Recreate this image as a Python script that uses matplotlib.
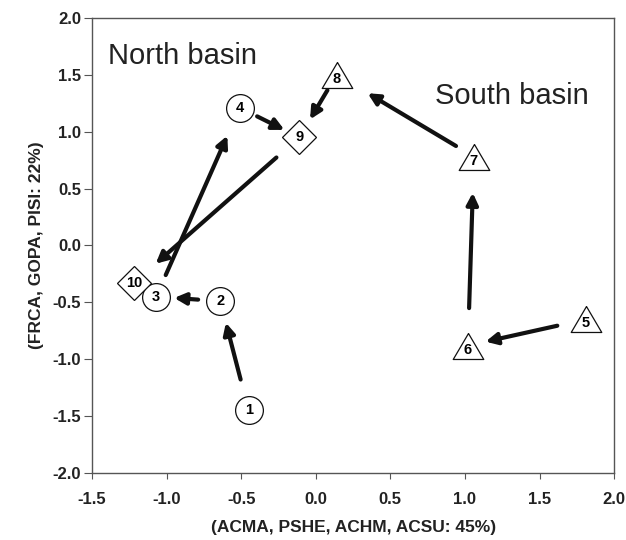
import matplotlib.pyplot as plt

plt.rcParams['font.family'] = ['Liberation Sans', 'DejaVu Sans']

# sample scores on the two ordination axes
sites = ['1', '2', '3', '4', '5', '6', '7', '8', '9', '10']
axis1 = [-0.45, -0.64, -1.07, -0.51, 1.81, 1.02, 1.06, 0.14, -0.11, -1.22]
axis2 = [-1.45, -0.49, -0.45, 1.21, -0.65, -0.88, 0.78, 1.50, 0.95, -0.33]
shapes = ['o', 'o', 'o', 'o', '^', '^', '^', '^', 'D', 'D']

# trajectory between samples (from, to)
steps = [('1', '2'), ('2', '3'), ('3', '4'), ('4', '9'), ('9', '10'),
         ('5', '6'), ('6', '7'), ('7', '8'), ('8', '9')]
# gap (points) left at start / end of each arrow
gaps = [(23, 16), (16, 13), (17, 22), (14, 12), (22, 21),
        (21, 13), (27, 26), (15, 26), (13, 15)]

fig = plt.figure(figsize=(6.26, 5.40), dpi=100)
ax = fig.add_axes([0.147, 0.124, 0.834, 0.843])

idx = {s: i for i, s in enumerate(sites)}
for (a, b), (ga, gb) in zip(steps, gaps):
    i, j = idx[a], idx[b]
    ax.annotate('', xy=(axis1[j], axis2[j]), xytext=(axis1[i], axis2[i]),
                arrowprops=dict(arrowstyle='-|>', color='#111111', lw=3,
                                mutation_scale=17, shrinkA=ga, shrinkB=gb))

# wide, flat triangle like the original symbols
tri = [(0, 0.85), (-1, -0.85), (1, -0.85), (0, 0.85)]
marker = {'o': 'o', '^': tri, 'D': 'D'}
size = {'o': 20, '^': 22, 'D': 17.5}
for s, x, y, m in zip(sites, axis1, axis2, shapes):
    ax.plot(x, y, marker=marker[m], ms=size[m], mfc='white', mec='#111111',
            mew=0.9, ls='none', zorder=3)
    dy = -0.035 if m == '^' else 0
    ax.text(x, y + dy, s, ha='center', va='center', fontsize=10.5,
            fontweight='bold', zorder=4)

ax.text(-1.39, 1.59, 'North basin', fontsize=21, color='#222222')
ax.text(0.80, 1.24, 'South basin', fontsize=21, color='#222222')

ax.set_xlim(-1.5, 2.0)
ax.set_ylim(-2.0, 2.0)
ax.set_xticks([-1.5, -1.0, -0.5, 0.0, 0.5, 1.0, 1.5, 2.0])
ax.set_yticks([-2.0, -1.5, -1.0, -0.5, 0.0, 0.5, 1.0, 1.5, 2.0])
ax.xaxis.set_major_formatter(plt.FormatStrFormatter('%.1f'))
ax.yaxis.set_major_formatter(plt.FormatStrFormatter('%.1f'))
for sp in ax.spines.values():
    sp.set_color('#555555')
    sp.set_linewidth(1)
ax.tick_params(axis='x', length=4, pad=10, color='#555555', labelsize=12)
ax.tick_params(axis='y', length=6, pad=2, color='#555555', labelsize=12)
for lab in ax.get_xticklabels() + ax.get_yticklabels():
    lab.set_fontweight('bold')
    lab.set_color('#222222')

ax.set_xlabel('(ACMA, PSHE, ACHM, ACSU: 45%)', fontsize=12.5,
              fontweight='bold', color='#222222')
ax.set_ylabel('(FRCA, GOPA, PISI: 22%)', fontsize=12.5,
              fontweight='bold', color='#222222')
ax.xaxis.set_label_coords(0.5, -0.119)
ax.yaxis.set_label_coords(-0.107, 0.5)
ax.xaxis.label.set_va('center')
ax.yaxis.label.set_va('center')

fig.savefig('out.png', dpi=100)
